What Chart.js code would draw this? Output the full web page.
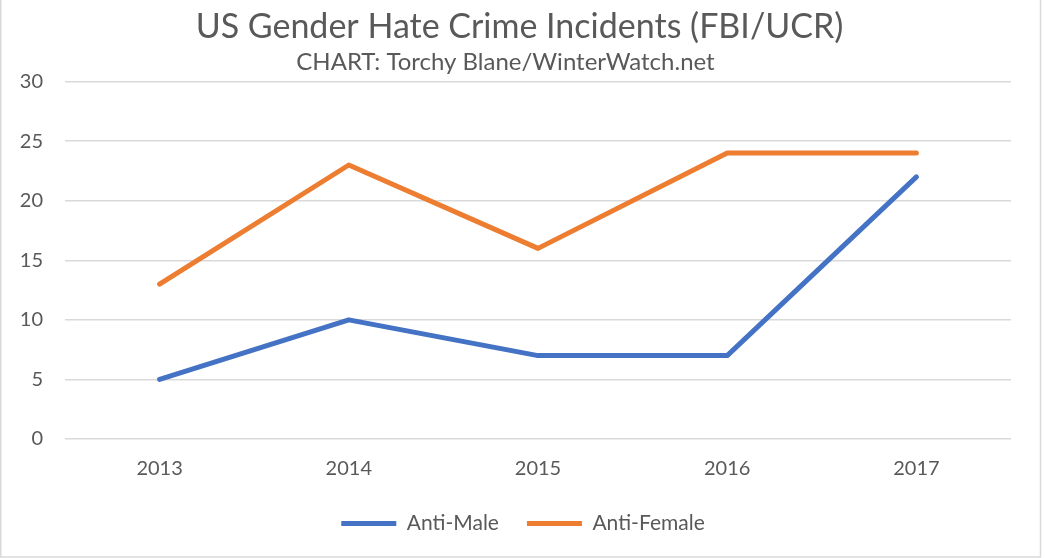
<!DOCTYPE html>
<html>
<head>
<meta charset="utf-8">
<script src="https://cdn.jsdelivr.net/npm/chart.js@4/dist/chart.umd.min.js"></script>
<style>
  html, body { margin: 0; padding: 0; background: #fff; }
  #wrap { width: 1046px; height: 558px; position: relative; }
</style>
</head>
<body>
<div id="wrap"><canvas id="hateChart" width="1046" height="558"></canvas></div>
<script>
// years and incident counts
const years = ["2013", "2014", "2015", "2016", "2017"];
const antiMale = [5, 10, 7, 7, 22];
const antiFemale = [13, 23, 16, 24, 24];
const yTicks = [0, 5, 10, 15, 20, 25, 30];

const textGray = "#595959";
const fontFam = "Lato, 'Open Sans', sans-serif";

// thin frame like an office chart area
const frame = {
    id: "frame",
    beforeDraw(chart) {
        const ctx = chart.ctx;
        ctx.save();
        ctx.fillStyle = "#fff";
        ctx.fillRect(0, 0, chart.width, chart.height);
        ctx.strokeStyle = "#d9d9d9";
        ctx.lineWidth = 1.5;
        ctx.beginPath();
        ctx.moveTo(0.75, 0);
        ctx.lineTo(0.75, 557);
        ctx.lineTo(1040.5, 557);
        ctx.lineTo(1040.5, 0);
        ctx.stroke();
        ctx.restore();
    }
};

// nudge title and legend sideways after layout
const boxShift = {
    id: "boxShift",
    afterLayout(chart) {
        if (chart.legend) chart.legend.left += 35;
        if (chart.titleBlock) chart.titleBlock.left += 28;
    }
};

new Chart(document.getElementById("hateChart"), {
    type: "line",
    data: {
        labels: years,
        datasets: [
            {
                label: "Anti-Male",
                data: antiMale,
                borderColor: "#4472c4",
                backgroundColor: "#4472c4",
                borderWidth: 5,
                borderCapStyle: "round",
                borderJoinStyle: "round",
                pointRadius: 0,
                tension: 0
            },
            {
                label: "Anti-Female",
                data: antiFemale,
                borderColor: "#ed7d31",
                backgroundColor: "#ed7d31",
                borderWidth: 5,
                borderCapStyle: "round",
                borderJoinStyle: "round",
                pointRadius: 0,
                tension: 0
            }
        ]
    },
    options: {
        responsive: false,
        animation: false,
        layout: { padding: { left: 0, right: 35, top: 0, bottom: 14 } },
        plugins: {
            title: {
                display: true,
                text: "US Gender Hate Crime Incidents (FBI/UCR)",
                color: textGray,
                font: { family: fontFam, size: 34, weight: "normal", lineHeight: 1.2 },
                padding: { top: 7, bottom: 0 }
            },
            subtitle: {
                display: true,
                text: "CHART: Torchy Blane/WinterWatch.net",
                color: textGray,
                font: { family: fontFam, size: 24, weight: "normal", lineHeight: 1.2 },
                padding: { top: 0, bottom: 5 }
            },
            legend: {
                position: "bottom",
                labels: {
                    color: textGray,
                    font: { family: fontFam, size: 21 },
                    usePointStyle: true,
                    pointStyle: "line",
                    pointStyleWidth: 55,
                    boxHeight: 21,
                    padding: 28
                }
            },
            tooltip: { enabled: false }
        },
        scales: {
            x: {
                offset: true,
                afterFit(scale) {
                    scale.height -= 14;
                },
                grid: { display: false, drawTicks: false },
                border: { display: false },
                ticks: {
                    color: textGray,
                    font: { family: fontFam, size: 20 },
                    padding: 18
                }
            },
            y: {
                min: 0,
                max: 30,
                afterBuildTicks(scale) {
                    scale.ticks = yTicks.map(v => ({ value: v }));
                },
                afterFit(scale) {
                    scale.width = 65;
                },
                grid: { color: "#d9d9d9", lineWidth: 1.5, drawTicks: false },
                border: { display: false },
                ticks: {
                    color: textGray,
                    font: { family: fontFam, size: 20 },
                    padding: 22
                }
            }
        }
    },
    plugins: [frame, boxShift]
});
</script>
</body>
</html>
